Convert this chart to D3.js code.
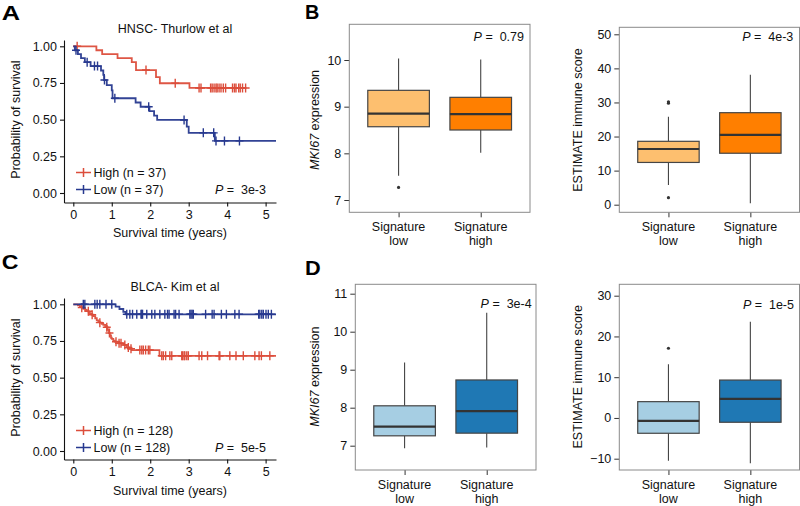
<!DOCTYPE html>
<html><head><meta charset="utf-8">
<script src="https://cdn.jsdelivr.net/npm/d3@7"></script>
<style>
body{margin:0;background:#fff}
svg{display:block;font-family:"Liberation Sans",Arial,Helvetica,sans-serif}
text{white-space:pre}
</style></head><body>
<svg id="fig" width="800" height="506"></svg>
<script>
// ---------------- DATA ----------------
const kmXTicks = [0, 1, 2, 3, 4, 5];
const kmYTicks = [0, 0.25, 0.5, 0.75, 1];
const kmSeriesNames = ["High", "Low"];

// Panel A: HNSC - Thurlow et al
const hnscHighTimes = [0.60, 0.75, 1.15, 1.52, 1.63, 2.15, 2.25, 3.02];
const hnscHighSurv  = [0.973, 0.946, 0.919, 0.892, 0.838, 0.790, 0.748, 0.716];
const hnscHighCensor = [0.10, 1.89, 2.65, 3.27, 3.32, 3.57, 3.61, 3.66, 3.71, 3.74, 3.79, 3.84, 3.90, 3.96, 4.14, 4.19, 4.23, 4.30, 4.34, 4.40, 4.48];
const hnscHighEnd = 4.48;
const hnscLowTimes = [0.04, 0.12, 0.20, 0.30, 0.45, 0.72, 0.78, 0.80, 0.87, 1.00, 1.02, 1.62, 1.75, 1.98, 2.10, 2.18, 2.95, 3.00, 3.68];
const hnscLowSurv  = [0.973, 0.946, 0.919, 0.892, 0.865, 0.835, 0.805, 0.770, 0.736, 0.700, 0.646, 0.617, 0.588, 0.558, 0.528, 0.498, 0.453, 0.410, 0.355];
const hnscLowCensor = [0.07, 0.36, 0.55, 0.63, 0.81, 1.08, 1.96, 2.88, 3.38, 3.65, 3.71, 3.93, 4.32];
const hnscLowEnd = 5.4;
const hnscN = [37, 37];
const hnscP = "3e-3";

// Panel C: BLCA - Kim et al
const blcaHighTimes = [0.12, 0.17, 0.22, 0.26, 0.31, 0.35, 0.40, 0.43, 0.48, 0.52, 0.57, 0.61, 0.65, 0.69, 0.74, 0.78, 0.83, 0.87, 0.89, 0.91, 0.93, 0.95, 0.98, 1.00, 1.04, 1.08, 1.17, 1.30, 1.39, 1.46, 1.52, 2.24];
const blcaHighSurv  = [0.992, 0.984, 0.977, 0.969, 0.961, 0.953, 0.945, 0.937, 0.929, 0.920, 0.905, 0.890, 0.882, 0.875, 0.867, 0.860, 0.852, 0.844, 0.828, 0.820, 0.804, 0.788, 0.772, 0.764, 0.753, 0.745, 0.734, 0.723, 0.706, 0.697, 0.688, 0.649];
const blcaHighCensor = [0.22, 0.39, 0.49, 0.69, 0.87, 0.94, 1.11, 1.19, 1.24, 1.34, 1.43, 1.50, 1.73, 1.78, 1.82, 1.88, 1.95, 1.99, 2.30, 2.34, 2.40, 2.51, 2.56, 2.82, 2.84, 2.88, 2.90, 2.95, 2.99, 3.27, 3.34, 3.49, 3.79, 3.81, 4.07, 4.23, 4.42, 4.72, 4.83, 4.89, 5.11];
const blcaHighEnd = 5.4;
const blcaLowTimes = [1.10, 1.20, 1.30, 1.36];
const blcaLowSurv  = [0.984, 0.968, 0.948, 0.932];
const blcaLowCensor = [0.26, 0.30, 0.56, 0.62, 0.69, 0.85, 1.00, 1.39, 1.47, 1.54, 1.65, 1.76, 1.78, 1.80, 1.91, 2.04, 2.12, 2.25, 2.38, 2.45, 2.49, 2.62, 2.66, 2.75, 3.03, 3.06, 3.09, 3.12, 3.44, 3.61, 3.66, 3.85, 3.98, 4.20, 4.31, 4.82, 4.85, 4.90, 4.94, 5.01, 5.07, 5.15];
const blcaLowEnd = 5.4;
const blcaN = [128, 128];
const blcaP = "5e-5";

// Box plots: [lower whisker, Q1, median, Q3, upper whisker]
const boxCategories = [["Signature", "low"], ["Signature", "high"]];
const bMkiLow  = [7.52, 8.57, 8.85, 9.35, 10.03];
const bMkiLowOut = [7.27];
const bMkiHigh = [8.01, 8.50, 8.84, 9.20, 10.01];
const bMkiHighOut = [];
const bMkiTicks = [7, 8, 9, 10];
const bMkiP = "0.79";

const bImmLow  = [5.8, 12.4, 16.35, 18.6, 25.8];
const bImmLowOut = [2.05, 29.8, 30.2];
const bImmHigh = [0.4, 15.1, 20.5, 27.0, 38.1];
const bImmHighOut = [];
const bImmTicks = [0, 10, 20, 30, 40, 50];
const bImmP = "4e-3";

const dMkiLow  = [6.93, 7.26, 7.50, 8.05, 9.19];
const dMkiLowOut = [];
const dMkiHigh = [6.95, 7.33, 7.91, 8.73, 10.50];
const dMkiHighOut = [];
const dMkiTicks = [7, 8, 9, 10, 11];
const dMkiP = "3e-4";

const dImmLow  = [-10.5, -3.76, -0.74, 4.0, 13.2];
const dImmLowOut = [17.1];
const dImmHigh = [-11.1, -1.06, 4.66, 9.3, 23.6];
const dImmHighOut = [];
const dImmTicks = [-10, 0, 10, 20, 30];
const dImmP = "1e-5";

// ---------------- DRAWING ----------------
const svg = d3.select("#fig");
const TXT = "#111";
const FS = 12.5;
const RED = "#dc4d3b", BLUE = "#27398f";

function panelLetter(x, y, s, w) {
  svg.append("text").attr("x", x).attr("y", y).attr("font-size", 20.5)
    .attr("font-weight", "bold").attr("fill", "#000")
    .attr("textLength", w).attr("lengthAdjust", "spacingAndGlyphs").text(s);
}

function pText(g, xr, y, val) {
  const t = g.append("text").attr("x", xr).attr("y", y).attr("text-anchor", "end")
    .attr("font-size", FS).attr("fill", TXT);
  t.append("tspan").attr("font-style", "italic").text("P");
  t.append("tspan").text(" =  " + val);
}

function survAt(times, surv, t) {
  let s = 1;
  for (let i = 0; i < times.length; i++) if (times[i] <= t) s = surv[i];
  return s;
}

let clipId = 0;
function drawKM(cfg) {
  const g = svg.append("g");
  const pxPerUnitY = cfg.y0 - cfg.y1;
  const y = d3.scaleLinear()
    .domain([(cfg.y0 - cfg.axisY) / pxPerUnitY, (cfg.y0 - cfg.top) / pxPerUnitY])
    .range([cfg.axisY, cfg.top]);
  const x = d3.scaleLinear().domain([-0.242, 5.27]).range([64, 276]);

  const ya = g.append("g").attr("transform", `translate(64,0)`)
    .call(d3.axisLeft(y).tickValues(kmYTicks).tickFormat(d3.format(".2f")).tickSize(4).tickSizeOuter(0).tickPadding(3));
  const xa = g.append("g").attr("transform", `translate(0,${cfg.axisY})`)
    .call(d3.axisBottom(x).tickValues(kmXTicks).tickFormat(d3.format("d")).tickSize(4).tickSizeOuter(0).tickPadding(4));
  [ya, xa].forEach(a => {
    a.selectAll("path,line").attr("stroke", "#111").attr("stroke-width", 1.1);
    a.selectAll("text").attr("font-size", FS).attr("fill", TXT).attr("font-family", null);
  });

  g.append("text").attr("x", 175).attr("y", cfg.titleY).attr("text-anchor", "middle")
    .attr("font-size", FS).attr("fill", TXT).text(cfg.title);
  g.append("text").attr("x", 170).attr("y", cfg.xTitleY).attr("text-anchor", "middle")
    .attr("font-size", FS).attr("fill", TXT).text("Survival time (years)");
  g.append("text").attr("transform", `translate(20,${(cfg.y0 + cfg.y1) / 2}) rotate(-90)`)
    .attr("text-anchor", "middle").attr("font-size", FS).attr("fill", TXT).text("Probability of survival");

  const id = "kmclip" + (clipId++);
  svg.append("clipPath").attr("id", id).append("rect")
    .attr("x", 64.5).attr("y", cfg.top - 10).attr("width", 276 - 64.5).attr("height", cfg.axisY - cfg.top + 10);
  const cg = g.append("g").attr("clip-path", `url(#${id})`);
  const line = d3.line().x(d => x(d[0])).y(d => y(d[1])).curve(d3.curveStepAfter);
  cfg.series.forEach(s => {
    const pts = [[0, 1]].concat(s.times.map((t, i) => [t, s.surv[i]]));
    pts.push([s.end, s.surv[s.surv.length - 1]]);
    cg.append("path").attr("d", line(pts)).attr("fill", "none").attr("stroke", s.color)
      .attr("stroke-width", 1.8).attr("opacity", 0.95);
    cg.selectAll(null).data(s.censor).enter().append("path")
      .attr("d", t => {
        const cx = x(t), cy = y(survAt(s.times, s.surv, t));
        return `M${cx},${cy - 4.5}v9M${cx - 4},${cy}h8`;
      })
      .attr("stroke", s.color).attr("stroke-width", 1.4).attr("fill", "none");
  });

  cfg.series.forEach((s, i) => {
    const ly = cfg.y0 - 20.5 + i * 17;
    g.append("path").attr("d", `M76,${ly}h15M83.5,${ly - 4.5}v9`).attr("stroke", s.color).attr("stroke-width", 1.5).attr("fill", "none");
    g.append("text").attr("x", 93.5).attr("y", ly + 4.4).attr("font-size", FS).attr("fill", TXT)
      .text(`${s.name} (n = ${s.n})`);
  });
  pText(g, 266, cfg.y0 - 3.5 + 4.4, cfg.p);
}

function drawBox(cfg) {
  const g = svg.append("g");
  const x = d3.scaleLinear().domain([0.4, 2.6]).range([cfg.left, cfg.right]);
  const y = d3.scaleLinear().domain(cfg.anchorV).range(cfg.anchorPx);
  const yTop = y.invert(cfg.top), yBot = y.invert(cfg.bottom);
  y.domain([yBot, yTop]).range([cfg.bottom, cfg.top]);

  const ya = g.append("g").attr("transform", `translate(${cfg.left},0)`)
    .call(d3.axisLeft(y).tickValues(cfg.ticks).tickFormat(d => d < 0 ? "\u2212" + Math.abs(d) : String(d))
      .tickSize(5).tickSizeOuter(0).tickPadding(3));
  ya.select(".domain").remove();
  const xa = g.append("g").attr("transform", `translate(0,${cfg.bottom})`)
    .call(d3.axisBottom(x).tickValues([1, 2]).tickFormat(() => "").tickSize(5).tickSizeOuter(0));
  xa.select(".domain").remove();
  [ya, xa].forEach(a => {
    a.selectAll("line").attr("stroke", "#333").attr("stroke-width", 1);
    a.selectAll("text").attr("font-size", FS).attr("fill", TXT).attr("font-family", null);
  });
  boxCategories.forEach((lab, i) => {
    lab.forEach((l, j) => {
      g.append("text").attr("x", x(i + 1)).attr("y", cfg.bottom + 19 + j * 14)
        .attr("text-anchor", "middle").attr("font-size", FS).attr("fill", TXT).text(l);
    });
  });

  const bw = x(0.375) - x(0);
  cfg.stats.forEach((st, i) => {
    const cx = x(i + 1);
    const col = cfg.colors[i];
    g.append("line").attr("x1", cx).attr("x2", cx).attr("y1", y(st[4])).attr("y2", y(st[3]))
      .attr("stroke", "#444").attr("stroke-width", 1.1);
    g.append("line").attr("x1", cx).attr("x2", cx).attr("y1", y(st[1])).attr("y2", y(st[0]))
      .attr("stroke", "#444").attr("stroke-width", 1.1);
    g.append("rect").attr("x", cx - bw).attr("width", 2 * bw).attr("y", y(st[3]))
      .attr("height", y(st[1]) - y(st[3])).attr("fill", col).attr("stroke", "#454545").attr("stroke-width", 1.2);
    g.append("line").attr("x1", cx - bw).attr("x2", cx + bw).attr("y1", y(st[2])).attr("y2", y(st[2]))
      .attr("stroke", "#333").attr("stroke-width", 2.2);
    g.selectAll(null).data(cfg.outliers[i]).enter().append("circle")
      .attr("cx", cx).attr("cy", d => y(d)).attr("r", 1.6).attr("fill", "#333");
  });

  g.append("rect").attr("x", cfg.left).attr("y", cfg.top).attr("width", cfg.right - cfg.left)
    .attr("height", cfg.bottom - cfg.top).attr("fill", "none").attr("stroke", "#8a8a8a").attr("stroke-width", 1);

  const yt = g.append("text").attr("transform", `translate(${cfg.yTitleX},${cfg.yTitleY}) rotate(-90)`)
    .attr("text-anchor", "middle").attr("font-size", FS).attr("fill", TXT);
  if (cfg.italicGene) {
    yt.append("tspan").attr("font-style", "italic").text("MKI67");
    yt.append("tspan").text(" expression");
  } else {
    yt.text("ESTIMATE immune score");
  }
  pText(g, cfg.pX, cfg.pY, cfg.p);
}

panelLetter(1.7, 19.5, "A", 18.3);
panelLetter(305, 18.5, "B", 14.3);
panelLetter(1.7, 269, "C", 16.7);
panelLetter(305, 275, "D", 15.7);

drawKM({
  title: "HNSC- Thurlow et al", titleY: 33.3, xTitleY: 236.8,
  y1: 46.3, y0: 193, top: 40, axisY: 202.5, p: hnscP,
  series: [
    { name: kmSeriesNames[0], n: hnscN[0], times: hnscHighTimes, surv: hnscHighSurv, censor: hnscHighCensor, end: hnscHighEnd, color: RED },
    { name: kmSeriesNames[1], n: hnscN[1], times: hnscLowTimes, surv: hnscLowSurv, censor: hnscLowCensor, end: hnscLowEnd, color: BLUE }
  ]
});
drawKM({
  title: "BLCA- Kim et al", titleY: 290.7, xTitleY: 494.5,
  y1: 304.3, y0: 451, top: 298, axisY: 459.5, p: blcaP,
  series: [
    { name: kmSeriesNames[0], n: blcaN[0], times: blcaHighTimes, surv: blcaHighSurv, censor: blcaHighCensor, end: blcaHighEnd, color: RED },
    { name: kmSeriesNames[1], n: blcaN[1], times: blcaLowTimes, surv: blcaLowSurv, censor: blcaLowCensor, end: blcaLowEnd, color: BLUE }
  ]
});

const orange = ["#fdbf6f", "#ff7f00"], blues = ["#a6cee3", "#1f78b4"];
drawBox({ left: 349.3, right: 530, top: 24.3, bottom: 212.3, anchorV: [7, 10], anchorPx: [200, 60],
  ticks: bMkiTicks, stats: [bMkiLow, bMkiHigh], outliers: [bMkiLowOut, bMkiHighOut], colors: orange,
  italicGene: true, yTitleX: 319, yTitleY: 120, p: bMkiP, pX: 524, pY: 41 });
drawBox({ left: 619.3, right: 799.5, top: 27.3, bottom: 212.3, anchorV: [0, 50], anchorPx: [204.7, 34.3],
  ticks: bImmTicks, stats: [bImmLow, bImmHigh], outliers: [bImmLowOut, bImmHighOut], colors: orange,
  italicGene: false, yTitleX: 581.5, yTitleY: 120, p: bImmP, pX: 793.3, pY: 41 });
drawBox({ left: 355.3, right: 536, top: 284.3, bottom: 470, anchorV: [7, 11], anchorPx: [445.7, 293.7],
  ticks: dMkiTicks, stats: [dMkiLow, dMkiHigh], outliers: [dMkiLowOut, dMkiHighOut], colors: blues,
  italicGene: true, yTitleX: 319, yTitleY: 376.7, p: dMkiP, pX: 531.7, pY: 307.7 });
drawBox({ left: 619.3, right: 799.5, top: 284.3, bottom: 470, anchorV: [-10, 30], anchorPx: [458.7, 295.7],
  ticks: dImmTicks, stats: [dImmLow, dImmHigh], outliers: [dImmLowOut, dImmHighOut], colors: blues,
  italicGene: false, yTitleX: 581.5, yTitleY: 376.7, p: dImmP, pX: 794, pY: 309.4 });
</script>
</body></html>
